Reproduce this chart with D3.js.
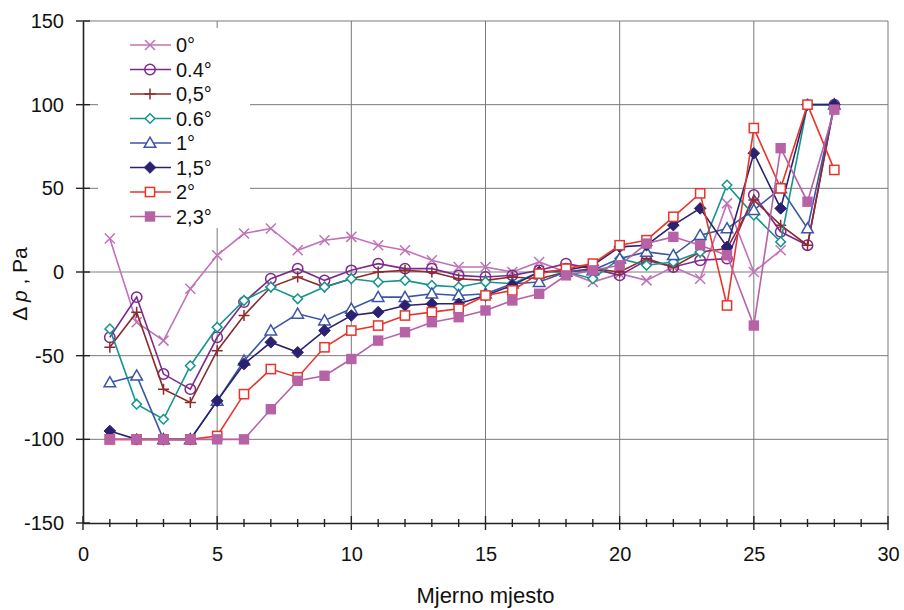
<!DOCTYPE html>
<html><head><meta charset="utf-8">
<script src="https://cdn.jsdelivr.net/npm/d3@7"></script>
<style>body{margin:0;background:#fff}svg{display:block;font-family:"Liberation Sans",Arial,sans-serif}</style>
</head><body><svg id="c" width="904" height="610"></svg>
<script>
const seriesNames = ["0°","0.4°","0,5°","0.6°","1°","1,5°","2°","2,3°"];
const s0   = [20,-30,-41,-10,10,23,26,13,19,21,16,13,7,3,3,0,6,0,-6,-1,-5,3,-4,41,0,13];
const s04  = [-39,-15,-61,-70,-39,-18,-4,2,-5,1,5,2,2,-2,-3,-2,1,5,2,-2,7,3,7,8,46,24,16,100];
const s05  = [-45,-24,-70,-78,-47,-26,-9,-3,-9,-4,0,1,0,-4,-5,-3,-4,0,2,0,8,3,12,14,43,28,16,100];
const s06  = [-34,-79,-88,-56,-33,-17,-9,-16,-9,-4,-6,-5,-8,-9,-6,-7,0,0,-4,8,4,6,12,52,34,18,100,100];
const s1   = [-66,-62,-100,-100,-77,-53,-35,-25,-29,-22,-15,-15,-13,-14,-13,-7,-6,0,1,8,12,10,22,26,37,50,26,100];
const s15  = [-95,-100,-100,-100,-77,-55,-42,-48,-35,-26,-24,-20,-19,-19,-14,-8,0,1,4,15,16,28,38,15,71,38,100,100];
const s2   = [-100,-100,-100,-100,-98,-73,-58,-63,-45,-35,-32,-26,-24,-22,-14,-11,-1,2,5,16,19,33,47,-20,86,50,100,61];
const s23  = [-100,-100,-100,-100,-100,-100,-82,-65,-62,-52,-41,-36,-30,-27,-23,-17,-13,-2,1,4,17,21,16,10,-32,74,42,97];
const seriesValues = [s0,s04,s05,s06,s1,s15,s2,s23];
const seriesColors = ["#c072b8","#7e2a8c","#8b2b2b","#16948e","#3b56a6","#2a2270","#e8352b","#b762a6"];
const seriesMarkers = ["x","circle","plus","diamond","triangle","fdiamond","square","fsquare"];
const xTicks = [0,5,10,15,20,25,30];
const yTicks = [-150,-100,-50,0,50,100,150];
const xLabel = "Mjerno mjesto";

const svg = d3.select("#c");
const x = d3.scaleLinear().domain([0,30]).range([83,888]);
const y = d3.scaleLinear().domain([-150,150]).range([523,21]);
const fmt = d => String(d);

// grid
svg.append("g").selectAll("line").data(xTicks.slice(1)).join("line")
  .attr("x1",d=>x(d)).attr("x2",d=>x(d)).attr("y1",y(150)).attr("y2",y(-150))
  .attr("stroke","#7a7a7a").attr("stroke-width",1);
svg.append("g").selectAll("line").data(yTicks.slice(1)).join("line")
  .attr("x1",x(0)).attr("x2",x(30)).attr("y1",d=>y(d)).attr("y2",d=>y(d))
  .attr("stroke","#7a7a7a").attr("stroke-width",1);

// axes
const xAxis = d3.axisBottom(x).tickValues(xTicks).tickFormat(fmt).tickSize(0).tickPadding(24);
const gx = svg.append("g").attr("transform",`translate(0,${y(-150)})`).call(xAxis);
gx.select(".domain").attr("stroke","#222").attr("stroke-width",1.6);
gx.selectAll("text").attr("font-size",20).attr("fill","#111").attr("font-family","Liberation Sans, Arial, sans-serif");
svg.append("g").selectAll("line").data(d3.range(0,31)).join("line")
  .attr("x1",d=>x(d)).attr("x2",d=>x(d))
  .attr("y1",d=>y(-150)-(d%5===0?7:4)).attr("y2",d=>y(-150)+(d%5===0?7:4))
  .attr("stroke","#222").attr("stroke-width",1.4);

const yAxis = d3.axisLeft(y).tickValues(yTicks).tickFormat(fmt).tickSize(0).tickPadding(19);
const gy = svg.append("g").attr("transform",`translate(${x(0)},0)`).call(yAxis);
gy.select(".domain").attr("stroke","#222").attr("stroke-width",1.6);
gy.selectAll("text").attr("font-size",20).attr("fill","#111").attr("font-family","Liberation Sans, Arial, sans-serif");
svg.append("g").selectAll("line").data(yTicks).join("line")
  .attr("x1",x(0)-7).attr("x2",x(0)+7).attr("y1",d=>y(d)).attr("y2",d=>y(d))
  .attr("stroke","#222").attr("stroke-width",1.4);

// labels
svg.append("text").attr("x",(x(0)+x(30))/2).attr("y",603).attr("text-anchor","middle")
  .attr("font-size",22).attr("fill","#111").text(xLabel);
const yl = svg.append("text").attr("transform","translate(27,284) rotate(-90)")
  .attr("text-anchor","middle").attr("font-size",21).attr("fill","#111");
yl.append("tspan").text("Δ ");
yl.append("tspan").attr("font-style","italic").text("p");
yl.append("tspan").text(" , Pa");

function marker(g, type, color, cx, cy){
  const sw = 1.5;
  switch(type){
    case "x": {
      const r=5;
      g.append("path").attr("d",`M${cx-r},${cy-r}L${cx+r},${cy+r}M${cx-r},${cy+r}L${cx+r},${cy-r}`)
        .attr("stroke",color).attr("stroke-width",sw).attr("fill","none"); break;}
    case "circle":
      g.append("circle").attr("cx",cx).attr("cy",cy).attr("r",5.2)
        .attr("stroke",color).attr("stroke-width",sw).attr("fill","none"); break;
    case "plus": {
      const r=5.5;
      g.append("path").attr("d",`M${cx-r},${cy}L${cx+r},${cy}M${cx},${cy-r}L${cx},${cy+r}`)
        .attr("stroke",color).attr("stroke-width",sw).attr("fill","none"); break;}
    case "diamond": {
      const r=4.8;
      g.append("path").attr("d",`M${cx},${cy-r}L${cx+r},${cy}L${cx},${cy+r}L${cx-r},${cy}Z`)
        .attr("stroke",color).attr("stroke-width",sw).attr("fill","#fff"); break;}
    case "fdiamond": {
      const r=5.8;
      g.append("path").attr("d",`M${cx},${cy-r}L${cx+r},${cy}L${cx},${cy+r}L${cx-r},${cy}Z`)
        .attr("stroke",color).attr("stroke-width",1).attr("fill",color); break;}
    case "triangle": {
      const r=5.8;
      g.append("path").attr("d",`M${cx},${cy-r}L${cx+r},${cy+r*0.75}L${cx-r},${cy+r*0.75}Z`)
        .attr("stroke",color).attr("stroke-width",sw).attr("fill","#fff"); break;}
    case "square": {
      const r=4.6;
      g.append("rect").attr("x",cx-r).attr("y",cy-r).attr("width",2*r).attr("height",2*r)
        .attr("stroke",color).attr("stroke-width",sw).attr("fill","#fff"); break;}
    case "fsquare": {
      const r=5.2;
      g.append("rect").attr("x",cx-r).attr("y",cy-r).attr("width",2*r).attr("height",2*r)
        .attr("stroke","none").attr("fill",color); break;}
  }
}

const line = d3.line().x((d,i)=>x(i+1)).y(d=>y(d));
seriesValues.forEach((vals,k)=>{
  const g = svg.append("g");
  g.append("path").datum(vals).attr("d",line).attr("fill","none")
    .attr("stroke",seriesColors[k]).attr("stroke-width",1.6);
  vals.forEach((v,i)=>marker(g, seriesMarkers[k], seriesColors[k], x(i+1), y(v)));
});

// legend
const lg = svg.append("g");
lg.append("rect").attr("x",98).attr("y",28).attr("width",152).attr("height",200).attr("fill","#fff");
seriesNames.forEach((name,k)=>{
  const yy = 45 + k*24.5;
  lg.append("line").attr("x1",130).attr("x2",171).attr("y1",yy).attr("y2",yy)
    .attr("stroke",seriesColors[k]).attr("stroke-width",1.6);
  marker(lg, seriesMarkers[k], seriesColors[k], 150, yy);
  lg.append("text").attr("x",176).attr("y",yy+7).attr("font-size",20).attr("fill","#111").text(name);
});
</script></body></html>
